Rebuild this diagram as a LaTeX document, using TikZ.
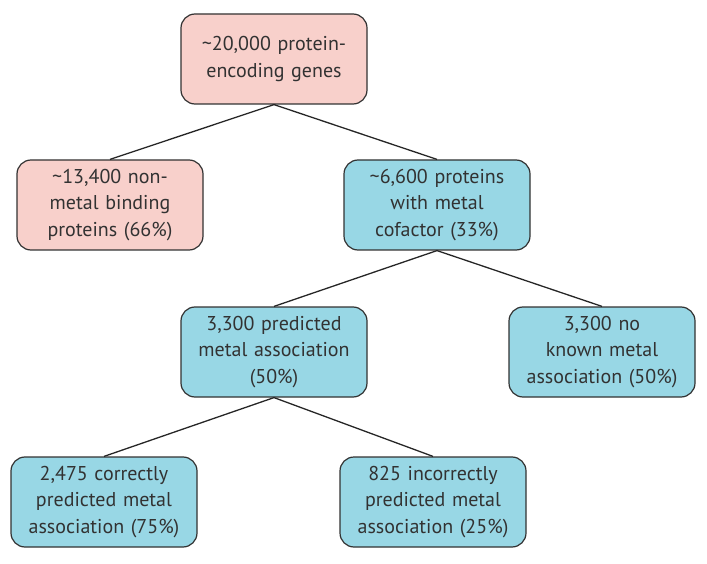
\documentclass[tikz,border=0pt]{standalone}
\usepackage{fontspec}
\setmainfont{PT Sans}
\usetikzlibrary{positioning}
\definecolor{genepink}{RGB}{248,208,203}
\definecolor{metalblue}{RGB}{152,215,229}
\definecolor{boxline}{RGB}{50,50,50}
\tikzset{
  genebox/.style={draw=boxline, line width=1.2pt, rounded corners=14pt,
    minimum width=186pt, minimum height=90pt, text width=180pt,
    align=center, inner sep=3pt, text=boxline,
    font=\fontsize{20}{26.5}\selectfont},
  pinkbox/.style={genebox, fill=genepink},
  bluebox/.style={genebox, fill=metalblue},
  branch/.style={draw=black!85, line width=1.3pt}
}

\begin{document}
\begin{tikzpicture}[x=1pt,y=1pt]
  \useasboundingbox (0,0) rectangle (707,-564);
  \node [pinkbox] (genes)     at (274,-59)  {\textasciitilde20,000 protein-\\encoding genes};
  \node [pinkbox] (nonmetal)  at (110,-205) {\textasciitilde13,400 non-\\metal binding\\proteins (66\%)};
  \node [bluebox] (cofactor)  at (437,-205) {\textasciitilde6,600 proteins\\with metal\\cofactor (33\%)};
  \node [bluebox] (predicted) at (274,-352) {3,300 predicted\\metal association\\(50\%)};
  \node [bluebox] (unknown)   at (602,-352) {3,300 no\\known metal\\association (50\%)};
  \node [bluebox] (correct)   at (104,-502) {2,475 correctly\\predicted metal\\association (75\%)};
  \node [bluebox] (incorrect) at (433,-502) {825 incorrectly\\predicted metal\\association (25\%)};
  \path [branch]
    (genes.south) edge (nonmetal.north)
                  edge (cofactor.north)
    (cofactor.south) edge (predicted.north)
                     edge (unknown.north)
    (predicted.south) edge (correct.north)
                      edge (incorrect.north);
\end{tikzpicture}
\end{document}
